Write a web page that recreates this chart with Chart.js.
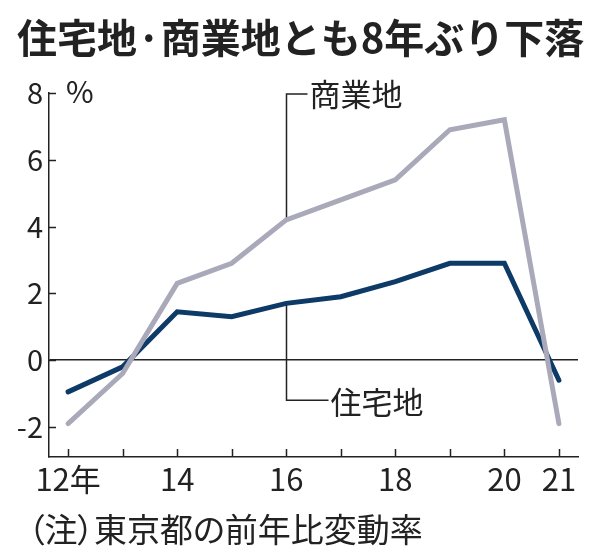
<!DOCTYPE html>
<html lang="ja">
<head>
<meta charset="utf-8">
<script src="https://cdn.jsdelivr.net/npm/chart.js@4.4.1/dist/chart.umd.min.js"></script>
<style>
  html, body { margin: 0; padding: 0; background: #fff; }
  #wrap { position: relative; width: 596px; height: 560px; overflow: hidden; font-family: 'Noto Sans CJK JP', sans-serif; color: #222; }
  #title { position: absolute; left: 17px; top: 8px; font-size: 40px; font-weight: 700; white-space: nowrap; line-height: 56px; }
  #note { position: absolute; left: 28px; top: 508px; font-size: 33px; white-space: nowrap; line-height: 40px; font-feature-settings: "palt"; }
  #box { position: absolute; left: 0; top: 0; width: 596px; height: 560px; }
</style>
</head>
<body>
<div id="wrap">
  <div id="box"><canvas id="c"></canvas></div>
  <div id="title">住宅地·商業地とも8年ぶり下落</div>
  <div id="note">（注）東京都の前年比変動率</div>
</div>
<script>
const years       = [12, 13, 14, 15, 16, 17, 18, 19, 20, 21];
const commercial  = [-1.9, -0.4, 2.3, 2.9, 4.2, 4.8, 5.4, 6.9, 7.2, -1.9]; // 商業地
const residential = [-0.95, -0.2, 1.45, 1.3, 1.7, 1.9, 2.35, 2.9, 2.9, -0.6]; // 住宅地
const xTickValues = [12, 14, 16, 18, 20, 21];
const xTickLabels = ['12年', '14', '16', '18', '20', '21'];
const yTickValues = [-2, 0, 2, 4, 6, 8];

const GRAY = '#a9a9ba';
const NAVY = '#0d3a66';
const INK  = '#222';
const FONT = "'Noto Sans CJK JP', sans-serif";

const pts = arr => years.map((x, i) => ({ x, y: arr[i] }));

// inward tick marks, leader lines and series labels
const decor = {
  id: 'decor',
  beforeDatasetsDraw(chart) {
    const { ctx, chartArea: a, scales: { x, y } } = chart;
    ctx.save();
    ctx.strokeStyle = INK;
    ctx.lineWidth = 1.5;
    ctx.beginPath();
    years.forEach(v => {
      const px = Math.round(x.getPixelForValue(v)) + 0.5;
      ctx.moveTo(px, a.bottom); ctx.lineTo(px, a.bottom - 8);
    });
    yTickValues.forEach(v => {
      const py = Math.round(y.getPixelForValue(v)) + 0.5;
      ctx.moveTo(a.left, py); ctx.lineTo(a.left + 7, py);
    });
    // leader lines at 16
    const i16 = years.indexOf(16);
    const lx = Math.round(x.getPixelForValue(16)) + 0.5;
    const cTop = y.getPixelForValue(8) + 1;
    const rBot = y.getPixelForValue(-1.2);
    ctx.moveTo(lx, y.getPixelForValue(commercial[i16]));
    ctx.lineTo(lx, cTop); ctx.lineTo(lx + 21, cTop);
    ctx.moveTo(lx, y.getPixelForValue(residential[i16]));
    ctx.lineTo(lx, rBot); ctx.lineTo(lx + 42, rBot);
    ctx.stroke();

    ctx.fillStyle = INK;
    ctx.textBaseline = 'middle';
    ctx.textAlign = 'left';
    ctx.font = '31px ' + FONT;
    ctx.fillText('商業地', lx + 23, cTop);
    ctx.fillText('住宅地', lx + 44, rBot + 2);
    ctx.font = '30px ' + FONT;
    ctx.fillText('%', a.left + 17, y.getPixelForValue(8) - 1);
    ctx.restore();
  }
};

new Chart(document.getElementById('c'), {
  type: 'line',
  data: {
    datasets: [
      { label: '商業地', data: pts(commercial), borderColor: GRAY, borderWidth: 5, pointRadius: 0, borderCapStyle: 'round', borderJoinStyle: 'miter', tension: 0 },
      { label: '住宅地', data: pts(residential), borderColor: NAVY, borderWidth: 5, pointRadius: 0, borderCapStyle: 'round', borderJoinStyle: 'miter', tension: 0 },
    ],
  },
  options: {
    responsive: true, maintainAspectRatio: false, animation: false,
    layout: { padding: { left: 0, top: 93, right: 18, bottom: 60 } },
    plugins: { legend: { display: false }, tooltip: { enabled: false }, title: { display: false } },
    scales: {
      x: {
        type: 'linear', min: 11.65, max: 21.35,
        afterBuildTicks: s => { s.ticks = xTickValues.map(value => ({ value })); },
        afterFit: s => { s.height = 43; },
        grid: { display: false, drawTicks: false },
        border: { display: true, color: INK, width: 1.5 },
        ticks: {
          autoSkip: false, maxRotation: 0, padding: 4, color: INK,
          font: { family: FONT, size: 31 },
          callback: v => xTickLabels[xTickValues.indexOf(v)],
        },
      },
      y: {
        min: -2.9, max: 8,
        afterBuildTicks: s => { s.ticks = yTickValues.map(value => ({ value })); },
        afterFit: s => { s.width = 49; },
        grid: {
          drawTicks: false,
          color: c => (c.tick && c.tick.value === 0 ? INK : 'rgba(0,0,0,0)'),
          lineWidth: 1.5,
        },
        border: { display: true, color: INK, width: 1.5 },
        ticks: { padding: 6, color: INK, font: { family: FONT, size: 29 } },
      },
    },
  },
  plugins: [decor],
});
</script>
</body>
</html>
